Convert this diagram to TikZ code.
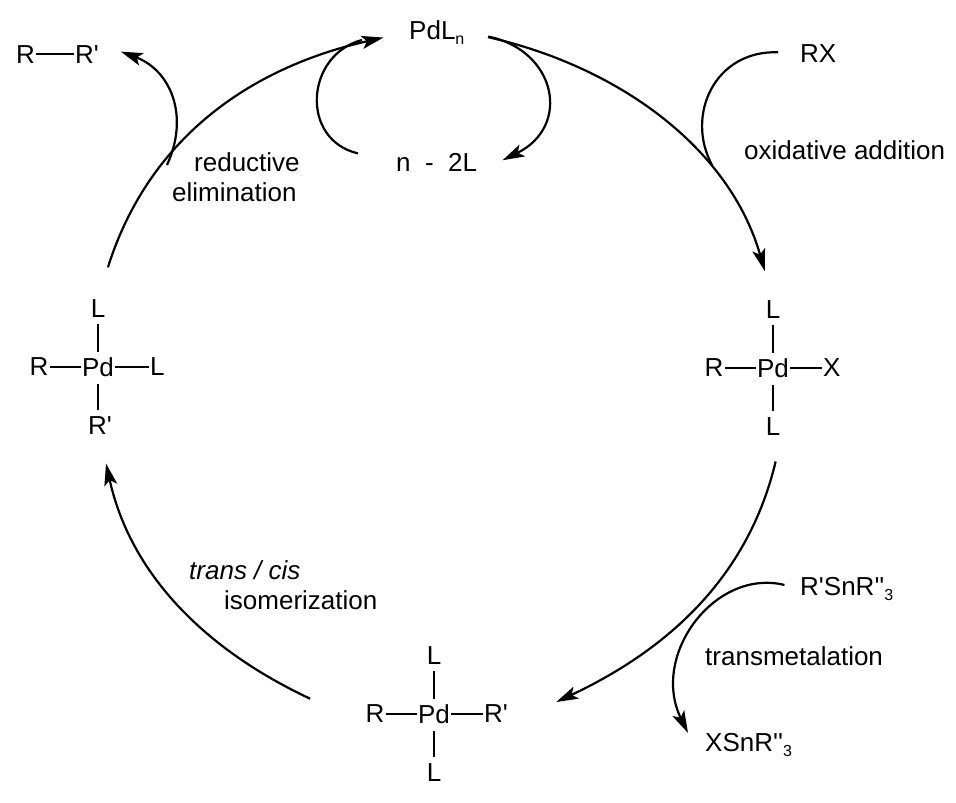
\documentclass[tikz,border=0pt]{standalone}
\usepackage{fontspec}
\newfontfamily\arial{Liberation Sans}
\usetikzlibrary{arrows.meta}
\tikzset{>={Stealth[length=22pt,width=13pt,inset=5pt]}}
\tikzset{
  lab/.style={anchor=base west, inner sep=0pt},
  atm/.style={inner sep=1pt},
  bond/.style={line width=2.2pt},
  cyc/.style={->, line width=2.2pt},
}
\newcommand{\lowtxt}[1]{\raisebox{-5pt}{\fontsize{16}{16}\selectfont #1}}

\begin{document}
\begin{tikzpicture}[x=1pt, y=-1pt, font=\arial\fontsize{26}{31}\selectfont]
  \useasboundingbox (0,0) rectangle (956,803);

  % The three palladium complexes
  \foreach \nm/\cx/\cy/\lft/\rgt/\bot/\bo in {x/773/368/R/X/L/0, b/434/714/R/R'/L/0, a/98/367/R/L/R'/2}
  {
    \node[atm] (\nm pd) at (\cx,\cy) {Pd};
    \node[atm] (\nm r) at (\cx-59,\cy) {\lft};
    \node[atm, anchor=west] (\nm s) at (\cx+49+\bo,\cy) {\rgt};
    \node[atm] (\nm t) at (\cx,\cy-58) {L};
    \node[atm] (\nm u) at (\cx+\bo,\cy+59) {\bot};
    \draw[bond] (\nm r) -- (\nm pd);
    \draw[bond] (\nm pd) -- (\nm s);
    \draw[bond, shorten <=4.5pt, shorten >=4.5pt] (\nm t.south) -- (\nm pd.north);
    \draw[bond, shorten <=6pt, shorten >=6pt] (\nm pd.south) -- (\nm u.north -| \nm pd.south);
  }

  % Species around the cycle
  \node[atm, anchor=base west] (pdl) at (408,39) {PdL\lowtxt{n}};
  \node[atm, anchor=base west] (nl) at (395,171) {n\ \ -\ \ 2L};
  \node[atm, anchor=base west] (rx) at (799,62) {RX};
  \node[atm, anchor=base west] (rr) at (15,63) {R};
  \node[atm, anchor=base west] (rq) at (74,63) {R'};
  \node[atm, anchor=base west] (sn) at (799,595) {R'SnR''\lowtxt{3}};
  \node[atm, anchor=base west] (xs) at (704,751) {XSnR''\lowtxt{3}};
  \draw[bond] (rr) -- (rq);

  % Step labels
  \node[lab] (oxa) at (744,159) {oxidative addition};
  \node[lab] (tme) at (705,665) {transmetalation};
  \node[lab] (tci) at (189,579) {\itshape trans / cis};
  \node[lab] (iso) at (224,609) {isomerization};
  \node[lab] (red) at (194,171) {reductive};
  \node[lab] (eli) at (172,201) {elimination};

  % Where the side arrows meet the cycle
  \coordinate (oxj) at (712,165);
  \coordinate (tmj) at (688,733);
  \coordinate (lgj) at (362,40);
  \coordinate (rej) at (167,165);

  % The main cycle
  \draw[cyc, shorten <=23pt, shorten >=30pt] (pdl.east) .. controls (616,66) and (729,146) .. (xt.north);
  \draw[cyc, shorten <=25pt, shorten >=52pt] (xu.south east) .. controls (748,578) and (667,650) .. (bs.south east);
  \draw[cyc, shorten <=60pt, shorten >=28pt] (br.south west) .. controls (202,648) and (130,572) .. (au.south);
  \draw[cyc, shorten <=33pt, shorten >=25pt] (at.north) .. controls (148,140) and (248,68) .. (pdl.west);

  % Side arrows
  \draw[bond, shorten <=21pt] (rx.west) .. controls (715,50) and (685,115) .. (oxj);
  \draw[cyc, shorten <=15pt] (sn.west) .. controls (715,568) and (650,655) .. (tmj);
  \draw[cyc, shorten <=23pt, shorten >=27pt] (pdl.east) .. controls (556,50) and (572,126) .. (nl.south east);
  \draw[bond, shorten <=38pt] (nl.west) .. controls (300,140) and (305,55) .. (lgj);
  \draw[cyc, shorten >=22pt] (rej) .. controls (190,115) and (170,70) .. (rq.north east);
\end{tikzpicture}
\end{document}
